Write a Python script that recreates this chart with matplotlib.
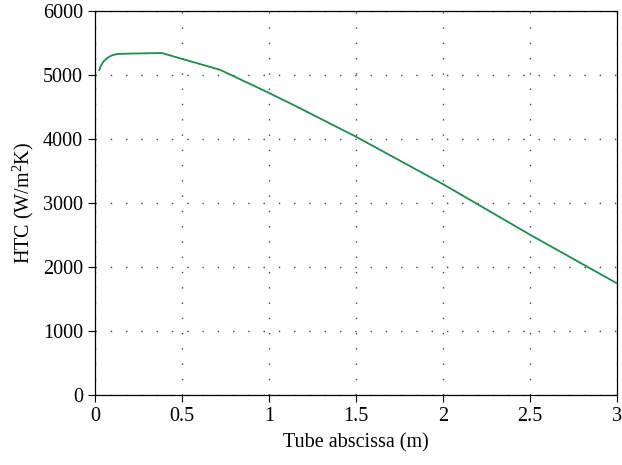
import numpy as np
import matplotlib
matplotlib.use("Agg")
import matplotlib.pyplot as plt

# HTC along the tube
tube_x = [0.025, 0.035, 0.05, 0.07, 0.09, 0.11, 0.13, 0.20, 0.384, 0.72, 1.0, 1.15, 1.5, 2.0, 2.5, 3.0]
htc = [5078, 5150, 5215, 5265, 5298, 5318, 5328, 5335, 5344, 5080, 4720, 4520, 4036, 3295, 2505, 1744]

x_ticks = [0, 0.5, 1, 1.5, 2, 2.5, 3]
x_tick_labels = ["0", "0.5", "1", "1.5", "2", "2.5", "3"]
y_ticks = [0, 1000, 2000, 3000, 4000, 5000, 6000]

plt.rcParams["font.family"] = ["Liberation Serif", "DejaVu Serif"]
plt.rcParams["mathtext.default"] = "regular"

fig = plt.figure(figsize=(6.22, 4.65), dpi=100)
ax = fig.add_axes([0.1527, 0.1505, 0.8393, 0.8258])

ax.plot(tube_x, htc, color="#1e8c4e", linewidth=1.3)

ax.set_xlim(0, 3)
ax.set_ylim(0, 6000)
ax.set_xticks(x_ticks)
ax.set_xticklabels(x_tick_labels)
ax.set_yticks(y_ticks)

ax.grid(True, color="#444444", linestyle=(0, (1, 10)), linewidth=1.0)
ax.tick_params(direction="out", length=5, width=0.8, labelsize=14.5, top=False, right=False)
for s in ax.spines.values():
    s.set_linewidth(0.9)

ax.set_xlabel("Tube abscissa (m)", fontsize=14.5, labelpad=5)
ax.set_ylabel("HTC (W/m$^2$K)", fontsize=14.5, labelpad=5)

fig.savefig("out.png", dpi=100)
